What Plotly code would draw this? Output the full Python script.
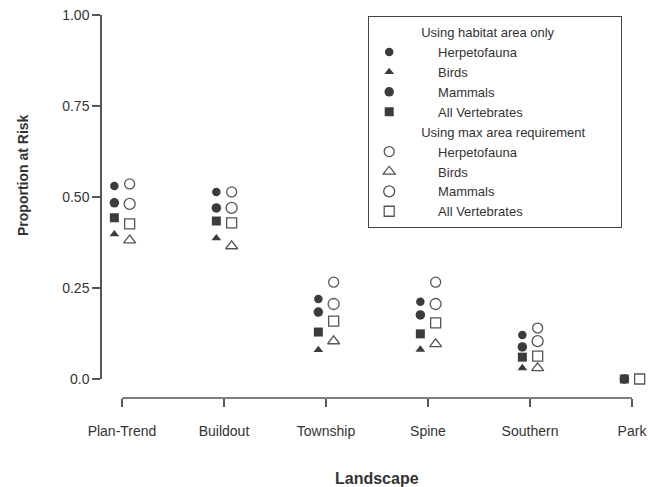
import plotly.graph_objects as go

landscapes = ["Plan-Trend", "Buildout", "Township", "Spine", "Southern", "Park"]

# Using habitat area only (filled markers)
hab_herp = [0.530, 0.514, 0.220, 0.212, 0.121, 0.0]
hab_birds = [0.398, 0.387, 0.080, 0.081, 0.030, 0.0]
hab_mammals = [0.484, 0.470, 0.184, 0.176, 0.088, 0.0]
hab_all = [0.443, 0.434, 0.129, 0.124, 0.060, 0.0]

# Using max area requirement (open markers); only the square is visible at Park
max_herp = [0.536, 0.514, 0.266, 0.266, 0.140, None]
max_birds = [0.381, 0.365, 0.104, 0.096, 0.030, None]
max_mammals = [0.481, 0.470, 0.206, 0.206, 0.104, None]
max_all = [0.426, 0.429, 0.159, 0.154, 0.063, 0.0]

y_tickvals = [0.0, 0.25, 0.5, 0.75, 1.0]
y_ticktext = ["0.0", "0.25", "0.50", "0.75", "1.00"]

FILL = "#3c3c3c"
LINE = "#555555"
TXT = "#333333"
FONT = "Liberation Sans, Arial, sans-serif"
NB = "\u00a0"

fig = go.Figure()

def add(vals, name, symbol, size, group, title, rank, filled):
    if filled:
        marker = dict(symbol=symbol, size=size, color=FILL, line=dict(width=0))
    else:
        marker = dict(symbol=symbol + "-open", size=size, color=LINE, line=dict(width=1.3, color=LINE))
    fig.add_trace(go.Scatter(
        x=landscapes, y=vals, mode="markers", name=NB * 8 + name,
        marker=marker, offsetgroup=group, legendgroup=group,
        legendgrouptitle=dict(text=NB * 13 + title + NB * 7,
                              font=dict(size=13, color=TXT, family=FONT)),
        legendrank=rank, cliponaxis=False, showlegend=True,
    ))

g1, t1 = "hab", "Using habitat area only"
g2, t2 = "max", "Using max area requirement"
# drawing order: circles, triangles, then squares on top
add(hab_herp, "Herpetofauna", "circle", 8.5, g1, t1, 1, True)
add(hab_mammals, "Mammals", "circle", 9.5, g1, t1, 3, True)
add(hab_birds, "Birds", "triangle-up", 8.5, g1, t1, 2, True)
add(hab_all, "All Vertebrates", "square", 9, g1, t1, 4, True)
add(max_herp, "Herpetofauna", "circle", 10, g2, t2, 5, False)
add(max_mammals, "Mammals", "circle", 11, g2, t2, 7, False)
add(max_birds, "Birds", "triangle-up", 10.5, g2, t2, 6, False)
add(max_all, "All Vertebrates", "square", 10, g2, t2, 8, False)

# pixel geometry
PL, PR, PT, PB = 101, 648, 15, 398      # paper box
W = PR - PL
H = PB - PT
X0, X5 = 122, 632                       # pixel of first / last category
U = (X5 - X0) / 5.0
xr = [-(X0 - PL) / U, 5 + (PR - X5) / U]

fig.add_shape(type="line", xref="x", yref="paper", x0=0, x1=5, y0=0, y1=0,
              line=dict(color=LINE, width=1.5))

fig.update_layout(
    width=648, height=487,
    margin=dict(l=PL, r=648 - PR, t=PT, b=487 - PB),
    paper_bgcolor="white", plot_bgcolor="white",
    font=dict(family=FONT, size=14, color=TXT),
    scattermode="group", scattergap=0.7,
    xaxis=dict(
        type="category", categoryorder="array", categoryarray=landscapes,
        range=xr, domain=[0, 1], anchor="free", position=0,
        showline=False,
        ticks="outside", ticklen=8, tickwidth=1.5, tickcolor=LINE,
        ticklabelstandoff=12, showgrid=False, zeroline=False,
        tickfont=dict(size=14, color=TXT),
    ),
    yaxis=dict(
        range=[0, 1], domain=[(PB - 379) / H, 1], anchor="free", position=0,
        tickvals=y_tickvals, ticktext=y_ticktext,
        showline=True, linecolor=LINE, linewidth=1.5,
        ticks="outside", ticklen=8, tickwidth=1.5, tickcolor=LINE,
        showgrid=False, zeroline=False,
        tickfont=dict(size=14, color=TXT),
    ),
    legend=dict(
        x=(368 - PL) / W, y=(PB - 16) / H, xanchor="left", yanchor="top",
        bordercolor="#444444", borderwidth=1.2, bgcolor="white",
        tracegroupgap=0, font=dict(size=13, color=TXT, family=FONT),
        traceorder="grouped",
    ),
    annotations=[
        dict(text="<b>Landscape</b>", xref="paper", yref="paper",
             x=(377 - PL) / W, y=(PB - 478) / H, xanchor="center", yanchor="middle",
             showarrow=False, font=dict(size=16, color=TXT)),
        dict(text="<b>Proportion at Risk</b>", xref="paper", yref="paper",
             x=(23 - PL) / W, y=(PB - 175) / H, xanchor="center", yanchor="middle",
             textangle=-90, showarrow=False, font=dict(size=14, color=TXT)),
    ],
)

fig.write_html("out.html")
